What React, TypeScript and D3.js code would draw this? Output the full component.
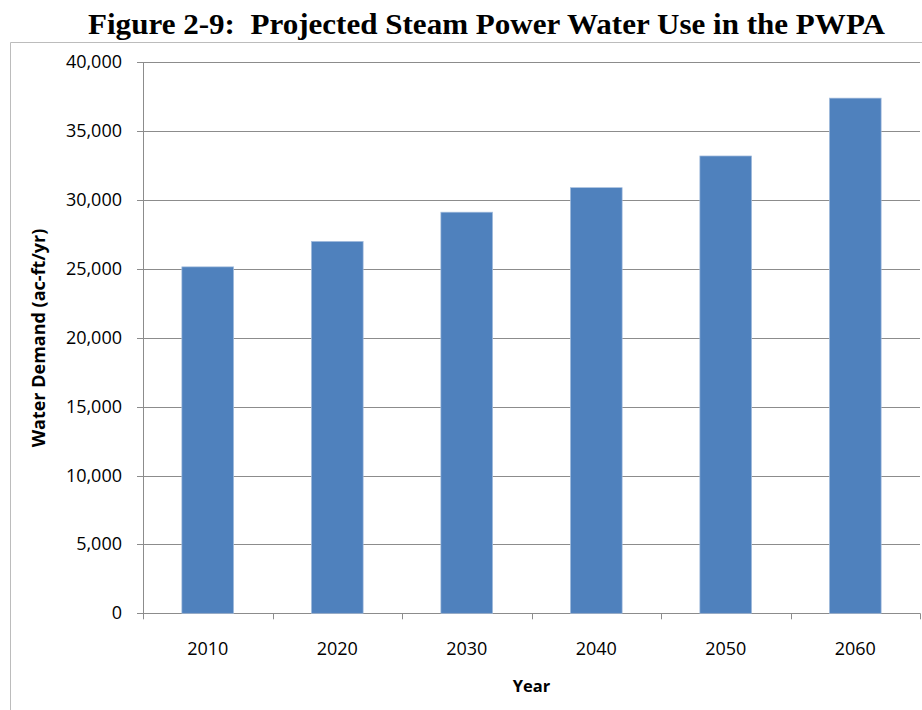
import React from "react";
import * as d3 from "d3";

const categories = ["2010", "2020", "2030", "2040", "2050", "2060"];
const values = [25150, 27000, 29120, 30900, 33200, 37400];
const yTicks = [0, 5000, 10000, 15000, 20000, 25000, 30000, 35000, 40000];

const W = 922;
const H = 710;
const left = 143;
const right = 920;
const top = 62.3;
const bottom = 613.3;

export default function App() {
  const x = d3.scaleBand<string>().domain(categories).range([left, right]).paddingInner(0.6).paddingOuter(0.3);
  const band = d3.scaleBand<string>().domain(categories).range([left, right]).padding(0);
  const y = d3.scaleLinear().domain([0, 40000]).range([bottom, top]);
  const fmt = d3.format(",");
  const font = "'Open Sans', 'DejaVu Sans', sans-serif";
  const boundaries = [...categories.map((c) => band(c) as number), right];
  return (
    <svg width={W} height={H} style={{ position: "absolute", left: 0, top: 0 }}>
      <rect width={W} height={H} fill="#fff" />
      <text
        x={88}
        y={34}
        textLength={797}
        lengthAdjust="spacingAndGlyphs"
        fontFamily="'Liberation Serif', 'Times New Roman', serif"
        fontWeight="bold"
        fontSize={29}
        style={{ whiteSpace: "pre" }}
      >
        {"Figure 2-9:  Projected Steam Power Water Use in the PWPA"}
      </text>
      <path d={`M10.5,${H + 2}V42.5H${W + 2}`} fill="none" stroke="#bcbcbc" strokeWidth={1} />
      {yTicks.map((t) => (
        <g key={t}>
          <line x1={left - 6} x2={right} y1={Math.round(y(t)) + 0.5} y2={Math.round(y(t)) + 0.5} stroke="#8c8c8c" strokeWidth={1} />
          <text x={122} y={y(t) + 6} textAnchor="end" fontFamily={font} fontSize={18} fill="#000">
            {fmt(t)}
          </text>
        </g>
      ))}
      <line x1={left + 0.5} x2={left + 0.5} y1={top} y2={bottom} stroke="#8c8c8c" />
      {boundaries.map((b, i) => (
        <line key={i} x1={Math.round(b) + 0.5} x2={Math.round(b) + 0.5} y1={bottom} y2={bottom + 6} stroke="#8c8c8c" />
      ))}
      {categories.map((c, i) => (
        <rect
          key={c}
          x={x(c)}
          y={y(values[i])}
          width={x.bandwidth()}
          height={bottom - y(values[i])}
          fill="#4f81bd"
          stroke="#a7bfde"
          strokeWidth={0.7}
        />
      ))}
      {categories.map((c) => (
        <text key={c} x={(band(c) as number) + band.bandwidth() / 2} y={655} textAnchor="middle" fontFamily={font} fontSize={18} fill="#000">
          {c}
        </text>
      ))}
      <text x={531.5} y={692} textAnchor="middle" fontFamily={font} fontWeight="bold" fontSize={16.5} fill="#000">
        Year
      </text>
      <text
        transform={`translate(45,338) rotate(-90)`}
        textAnchor="middle"
        fontFamily={font}
        fontWeight="bold"
        fontSize={18}
        fill="#000"
      >
        Water Demand (ac-ft/yr)
      </text>
    </svg>
  );
}
